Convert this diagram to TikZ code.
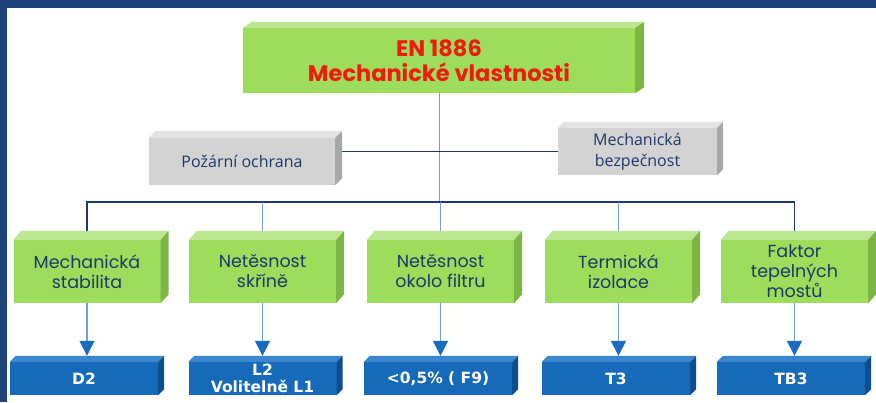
\documentclass[tikz,border=0pt]{standalone}
\usepackage{fontspec}
\setmainfont{Poppins}
\newfontfamily\grayfont{Open Sans}
\newfontfamily\bluefont{DejaVu Sans}
\usepackage{tikz}
\usetikzlibrary{arrows.meta,backgrounds}

\definecolor{bandblue}{HTML}{1D4277}
\definecolor{navy}{HTML}{1E3868}
\definecolor{lineblue}{HTML}{6E9FD9}
\definecolor{arrowblue}{HTML}{1A6CC0}
\definecolor{textred}{HTML}{F01A0E}
\definecolor{greenfront}{HTML}{9EDC5C}
\definecolor{greentop}{HTML}{BCE790}
\definecolor{greenside}{HTML}{7EB646}
\definecolor{grayfront}{HTML}{D3D3D3}
\definecolor{graytop}{HTML}{E3E3E3}
\definecolor{grayside}{HTML}{A8A8A8}
\definecolor{bluefront}{HTML}{1769B9}
\definecolor{bluetop}{HTML}{3A87CF}
\definecolor{blueside}{HTML}{0D4E8E}

% top and side faces of a box
\newcommand\boxfaces[5]{%
  \fill[#4] (#1.north west) -- ++(#2,-#3) -- ([shift={(#2,-#3)}]#1.north east) -- (#1.north east) -- cycle;
  \fill[#5] (#1.north east) -- ++(#2,-#3) -- ([shift={(#2,-#3)}]#1.south east) -- (#1.south east) -- cycle;
}

\tikzset{
  front/.style={inner sep=0pt, align=center, text=navy},
  topbox/.style={front, fill=greenfront, minimum width=392pt, minimum height=65pt,
    text=textred, font=\fontsize{22.5}{25}\selectfont\bfseries},
  graybox/.style={front, fill=grayfront, minimum height=47pt,
    font=\grayfont\fontsize{16}{21}\selectfont},
  greenbox/.style={front, fill=greenfront, minimum width=147pt, minimum height=63pt,
    font=\fontsize{17.5}{20}\selectfont},
  bluebox/.style={front, fill=bluefront, minimum width=148pt, minimum height=33pt,
    text=white, font=\bluefont\fontsize{15.5}{17}\selectfont\bfseries},
  busline/.style={draw=navy, line width=1.4pt},
  thinline/.style={draw=lineblue, line width=0.9pt},
  arr/.style={draw=lineblue, line width=1.4pt, shorten >=6pt,
    -{Triangle[width=15pt,length=15pt,color=arrowblue]}}
}

\begin{document}
\begin{tikzpicture}[x=1pt,y=-1pt]
\useasboundingbox (0,0) rectangle (876,402);

\node[topbox] (top) at (439,60.5) {EN 1886\\Mechanické vlastnosti};
\node[graybox, minimum width=186pt] (fire) at (242,161.5) {Požární ochrana};
\node[graybox, minimum width=159pt] (safety) at (637.5,151.5) {Mechanická\\bezpečnost};

\node[greenbox] (g1) at (87,271.5) {Mechanická\\stabilita};
\node[greenbox] (g2) at (262.5,271.5) {Netěsnost\\skříně};
\node[greenbox] (g3) at (440.5,271.5) {Netěsnost\\okolo filtru};
\node[greenbox] (g4) at (618.5,271.5) {Termická\\izolace};
\node[greenbox] (g5) at (794.5,271.5) {Faktor\\tepelných\\mostů};

\node[bluebox] (b1) at (84,378.5) {D2};
\node[bluebox] (b2) at (262.5,378.5) {L2\\Volitelně L1};
\node[bluebox] (b3) at (438,378.5) {<0,5\% ( F9)};
\node[bluebox] (b4) at (616,378.5) {T3};
\node[bluebox] (b5) at (791,378.5) {TB3};

\boxfaces{top}{9}{6}{greentop}{greenside}
\boxfaces{fire}{7}{7}{graytop}{grayside}
\boxfaces{safety}{6}{6}{graytop}{grayside}
\foreach \n in {g1,g2,g3,g4,g5}{
  \boxfaces{\n}{8}{9}{greentop}{greenside}
}
\foreach \n in {b1,b2,b3,b4,b5}{
  \boxfaces{\n}{6}{6}{bluetop}{blueside}
}

\begin{scope}[on background layer]
  \fill[bandblue] (0,0) rectangle (876,402);
  \fill[white] (7,8) rectangle (876,402);
  \coordinate (bus) at (439,202);
  \draw[thinline] (top) -- (bus);
  \draw[busline] (fire.east |- safety.west) -- (safety.west);
  \draw[busline] (g1) |- (bus) -| (g5);
  \foreach \n in {g2,g3,g4}
    \draw[thinline] (\n) -- (\n |- bus);
\end{scope}

\foreach \g/\b in {g1/b1,g2/b2,g3/b3,g4/b4,g5/b5}
  \draw[arr] (\g) -- (\g |- \b.north);
\end{tikzpicture}
\end{document}
